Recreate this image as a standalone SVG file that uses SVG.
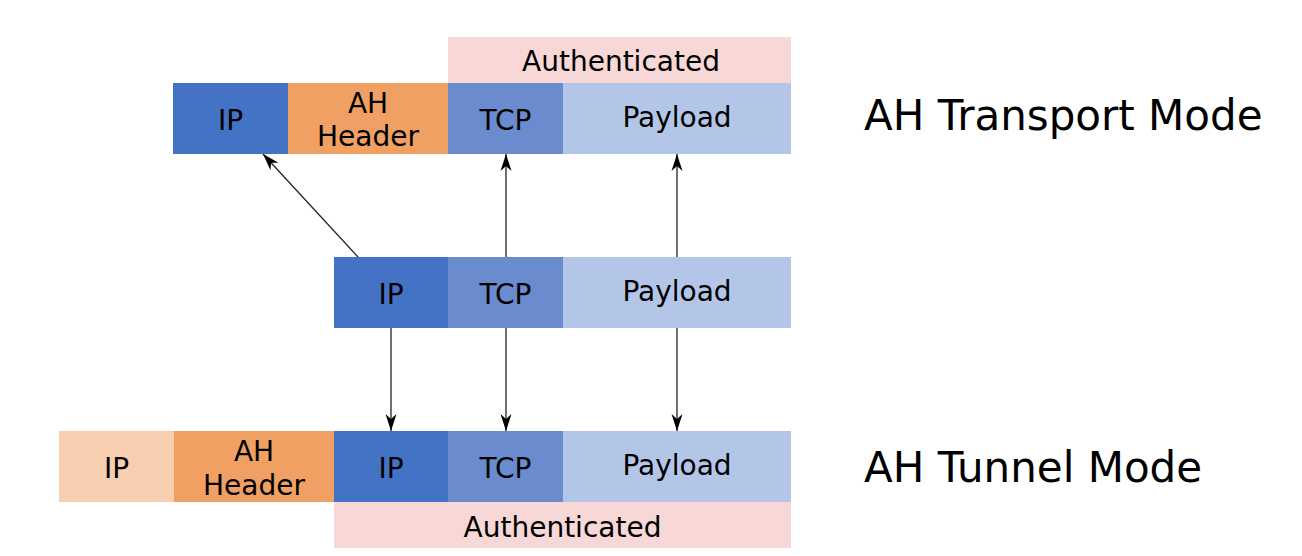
<svg xmlns="http://www.w3.org/2000/svg" width="1302" height="556" viewBox="0 0 1302 556">
  <style>
    text { font-family: "DejaVu Sans", "Liberation Sans", sans-serif; fill: #000; }
    .lbl { font-size: 28px; text-anchor: middle; }
    .title { font-size: 42px; }
    .ipd { fill: #4472C4; }
    .ah { fill: #F0A062; }
    .tcp { fill: #6A8CCE; }
    .pay { fill: #B4C6E7; }
    .ipl { fill: #F8CEB0; }
    .auth { fill: #F8D7D7; }
    .conn { stroke: #222; stroke-width: 1.3; fill: none; marker-end: url(#arr); }
  </style>
  <defs>
    <marker id="arr" markerUnits="userSpaceOnUse" markerWidth="22" markerHeight="16" viewBox="-18 -8 20 16" refX="0" refY="0" orient="auto">
      <path d="M0,0 L-17,-5.5 L-12,0 L-17,5.5 Z" fill="#000"/>
    </marker>
  </defs>
  <rect width="1302" height="556" fill="#fff"/>

  <!-- Transport mode -->
  <g id="t-auth"><rect class="auth" x="448" y="37" width="343" height="46"/><text class="lbl" x="621" y="71">Authenticated</text></g>
  <g id="t-ip"><rect class="ipd" x="173" y="83" width="115" height="71"/><text class="lbl" x="230.5" y="130">IP</text></g>
  <g id="t-ah"><rect class="ah" x="288" y="83" width="160" height="71"/><text class="lbl" x="368" y="113">AH</text><text class="lbl" x="368" y="146">Header</text></g>
  <g id="t-tcp"><rect class="tcp" x="448" y="83" width="115" height="71"/><text class="lbl" x="505.5" y="130">TCP</text></g>
  <g id="t-pay"><rect class="pay" x="563" y="83" width="228" height="71"/><text class="lbl" x="677" y="127">Payload</text></g>
  <g id="t-title"><text class="title" x="864" y="130">AH Transport Mode</text></g>

  <!-- Original packet -->
  <g id="o-ip"><rect class="ipd" x="334" y="257" width="114" height="71"/><text class="lbl" x="391" y="304">IP</text></g>
  <g id="o-tcp"><rect class="tcp" x="448" y="257" width="115" height="71"/><text class="lbl" x="505.5" y="304">TCP</text></g>
  <g id="o-pay"><rect class="pay" x="563" y="257" width="228" height="71"/><text class="lbl" x="677" y="301">Payload</text></g>

  <!-- Tunnel mode -->
  <g id="b-ipl"><rect class="ipl" x="59" y="431" width="115" height="71"/><text class="lbl" x="116.5" y="478">IP</text></g>
  <g id="b-ah"><rect class="ah" x="174" y="431" width="160" height="71"/><text class="lbl" x="254" y="461">AH</text><text class="lbl" x="254" y="495">Header</text></g>
  <g id="b-ip"><rect class="ipd" x="334" y="431" width="114" height="71"/><text class="lbl" x="391" y="478">IP</text></g>
  <g id="b-tcp"><rect class="tcp" x="448" y="431" width="115" height="71"/><text class="lbl" x="505.5" y="478">TCP</text></g>
  <g id="b-pay"><rect class="pay" x="563" y="431" width="228" height="71"/><text class="lbl" x="677" y="475">Payload</text></g>
  <g id="b-auth"><rect class="auth" x="334" y="502" width="457" height="46"/><text class="lbl" x="562.5" y="537">Authenticated</text></g>
  <g id="b-title"><text class="title" x="864" y="482">AH Tunnel Mode</text></g>

  <g id="connectors">
    <line class="conn" x1="358" y1="257" x2="263" y2="154"/>
    <line class="conn" x1="506" y1="257" x2="506" y2="154"/>
    <line class="conn" x1="677" y1="257" x2="677" y2="154"/>
    <line class="conn" x1="391" y1="328" x2="391" y2="431"/>
    <line class="conn" x1="506" y1="328" x2="506" y2="431"/>
    <line class="conn" x1="677" y1="328" x2="677" y2="431"/>
  </g>
</svg>
